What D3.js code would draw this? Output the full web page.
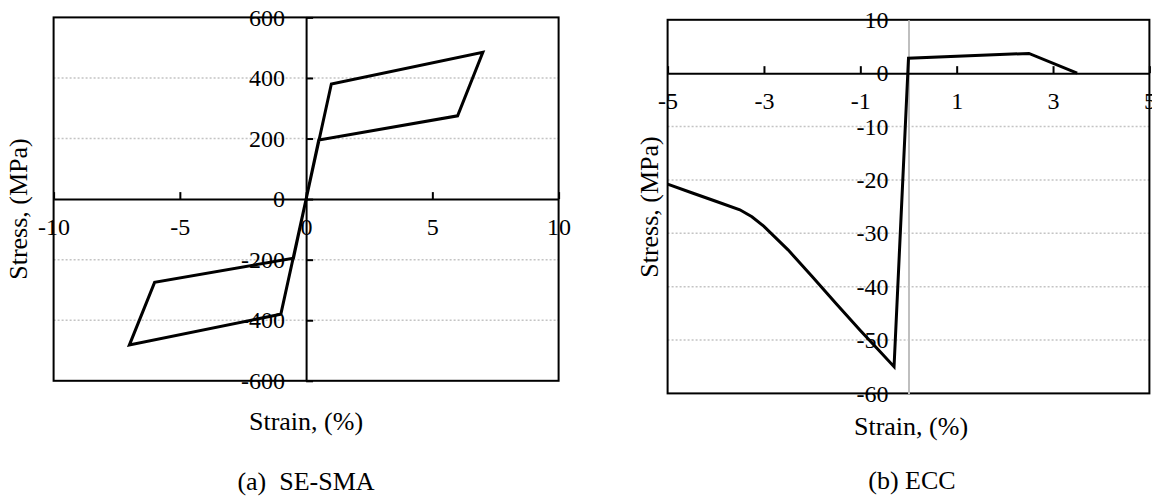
<!DOCTYPE html>
<html>
<head>
<meta charset="utf-8">
<script src="https://cdn.jsdelivr.net/npm/d3@7"></script>
<style>
  body { margin: 0; background: #fff; }
  svg { display: block; font-family: "Liberation Serif", "Times New Roman", serif; }
  .tick text { font-size: 24px; fill: #000; }
  .title { font-size: 26px; fill: #000; white-space: pre; }
  .grid line { stroke: #c4c4c4; stroke-width: 1.5; stroke-dasharray: 2,2; }
</style>
</head>
<body>
<svg id="chart" width="1152" height="496"></svg>
<script>
// (a) SE-SMA, strain (%) vs stress (MPa)
var sma_strain = [0, 1, 7, 6, 0.5, 0, -1, -7, -6, -0.5, 0];
var sma_stress = [0, 380, 485, 275, 195, 0, -380, -482, -275, -195, 0];
var sma_ticks_x = [-10, -5, 0, 5, 10];
var sma_ticks_y = [-600, -400, -200, 0, 200, 400, 600];

// (b) ECC
var ecc_strain = [-5, -4.5, -4, -3.5, -3.25, -3, -2.5, -2, -1.5, -1, -0.65, -0.3, 0, 2.5, 3.5];
var ecc_stress = [-20.8, -22.4, -24, -25.6, -26.9, -28.7, -33.1, -38.1, -43.2, -48.2, -51.6, -55, 2.8, 3.7, 0];
var ecc_ticks_x = [-5, -3, -1, 1, 3, 5];
var ecc_ticks_y = [-60, -50, -40, -30, -20, -10, 0, 10];

var svg = d3.select("#chart");

// plain hyphen minus, like the original sheet
function fmt(d) { return String(d); }

function draw_panel(opt) {
  var x = d3.scaleLinear().domain(opt.xdomain).range([opt.left, opt.right]);
  var y = d3.scaleLinear().domain(opt.ydomain).range([opt.bottom, opt.top]);
  var g = svg.append("g");

  // dotted gridlines, not on the border or on the zero line
  var grid_vals = opt.ticks_y.filter(function(v) {
    return v !== 0 && v !== opt.ydomain[0] && v !== opt.ydomain[1];
  });
  g.append("g").attr("class", "grid").selectAll("line").data(grid_vals).enter().append("line")
    .attr("x1", opt.left).attr("x2", opt.right)
    .attr("y1", function(d) { return y(d); })
    .attr("y2", function(d) { return y(d); });

  // plot border
  g.append("rect").attr("x", opt.left).attr("y", opt.top)
    .attr("width", opt.right - opt.left).attr("height", opt.bottom - opt.top)
    .attr("fill", "none").attr("stroke", "#000").attr("stroke-width", 2);

  // vertical axis at strain = 0
  var y_axis = d3.axisLeft(y).tickValues(opt.ticks_y).tickFormat(fmt).tickSizeOuter(0)
    .tickSizeInner(opt.ytick ? -7 : 0).tickPadding(opt.ytick ? 21 : 20);
  var ya = g.append("g").attr("transform", "translate(" + x(0) + ",0)").call(y_axis)
    .attr("font-family", null).attr("font-size", null);
  ya.select(".domain").attr("stroke", opt.ycolor).attr("stroke-width", 2);
  ya.selectAll(".tick line").attr("stroke", opt.ycolor).attr("stroke-width", 2);

  // horizontal axis at stress = 0, ticks pointing up
  var x_axis = d3.axisBottom(x).tickValues(opt.ticks_x).tickFormat(fmt).tickSizeOuter(0)
    .tickSizeInner(-7).tickPadding(19);
  var xa = g.append("g").attr("transform", "translate(0," + y(0) + ")").call(x_axis)
    .attr("font-family", null).attr("font-size", null);
  xa.select(".domain").attr("stroke", "#000").attr("stroke-width", 2);
  xa.selectAll(".tick line").attr("stroke", "#000").attr("stroke-width", 2);

  // the curve
  var line = d3.line()
    .x(function(d, i) { return x(opt.xs[i]); })
    .y(function(d, i) { return y(opt.ys[i]); });
  g.append("path").datum(opt.xs).attr("d", line)
    .attr("fill", "none").attr("stroke", "#000").attr("stroke-width", 3)
    .attr("stroke-linejoin", "miter");

  // titles
  g.append("text").attr("class", "title").attr("text-anchor", "middle")
    .attr("x", opt.xtitle[0]).attr("y", opt.xtitle[1]).text("Strain, (%)");
  g.append("text").attr("class", "title").attr("text-anchor", "middle")
    .attr("transform", "translate(" + opt.ytitle[0] + "," + opt.ytitle[1] + ") rotate(-90)")
    .text("Stress, (MPa)");
  g.append("text").attr("class", "title").attr("text-anchor", "middle")
    .attr("x", opt.caption[0]).attr("y", opt.caption[1]).text(opt.caption_text);
}

draw_panel({
  xs: sma_strain, ys: sma_stress,
  xdomain: [-10, 10], ydomain: [-600, 600],
  ticks_x: sma_ticks_x, ticks_y: sma_ticks_y,
  left: 53.6, right: 558.6, top: 17.4, bottom: 380.8,
  ycolor: "#000", ytick: true,
  xtitle: [306, 430], ytitle: [26.5, 209],
  caption: [306, 490], caption_text: "(a)  SE-SMA"
});

draw_panel({
  xs: ecc_strain, ys: ecc_stress,
  xdomain: [-5, 5], ydomain: [-60, 10],
  ticks_x: ecc_ticks_x, ticks_y: ecc_ticks_y,
  left: 667.6, right: 1149.4, top: 19.8, bottom: 393.4,
  ycolor: "#bfbfbf", ytick: false,
  xtitle: [911, 435], ytitle: [658, 207],
  caption: [912, 489], caption_text: "(b) ECC"
});
</script>
</body>
</html>
